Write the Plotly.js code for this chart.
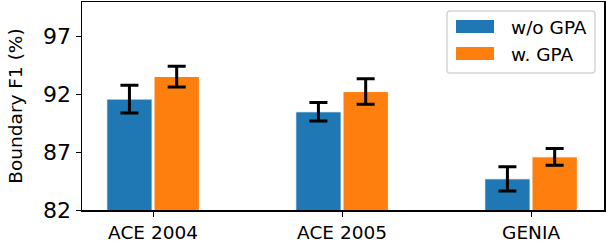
<!DOCTYPE html>
<html><head><meta charset="utf-8">
<script src="https://cdn.plot.ly/plotly-3.0.1.min.js"></script>
<style>html,body{margin:0;padding:0;background:#fff}</style>
</head><body><div id="chart" style="width:606px;height:244px"></div>
<script>
const categories = ["ACE 2004", "ACE 2005", "GENIA"];
const seriesNames = ["w/o GPA", "w. GPA"];
const woGPA = [91.6, 90.5, 84.7];
const woGPAErr = [1.2, 0.8, 1.05];
const wGPA = [93.55, 92.25, 86.6];
const wGPAErr = [0.9, 1.1, 0.72];
const yTicks = [82, 87, 92, 97];
const colors = ['#1f77b4', '#ff7f0e'];

const errStyle = {type: 'data', visible: true, color: '#000', thickness: 3, width: 9};
const traces = [
  {type: 'bar', name: seriesNames[0], x: categories, y: woGPA,
   error_y: Object.assign({array: woGPAErr}, errStyle),
   marker: {color: colors[0], line: {color: '#fff', width: 1}}},
  {type: 'bar', name: seriesNames[1], x: categories, y: wGPA,
   error_y: Object.assign({array: wGPAErr}, errStyle),
   marker: {color: colors[1], line: {color: '#fff', width: 1}}}
];

// manual legend (matplotlib-style) in paper coordinates
const W = 606 - 82 - 2, H = 244 - 2 - 34;
const px = x => (x - 82) / W;
const py = y => (210 - y) / H;
const rx = 3 / W, ry = 3 / H;
const bx0 = px(447), bx1 = px(595), by0 = py(73), by1 = py(11);
const boxPath = `M${bx0+rx},${by0} L${bx1-rx},${by0} Q${bx1},${by0} ${bx1},${by0+ry} ` +
  `L${bx1},${by1-ry} Q${bx1},${by1} ${bx1-rx},${by1} L${bx0+rx},${by1} ` +
  `Q${bx0},${by1} ${bx0},${by1-ry} L${bx0},${by0+ry} Q${bx0},${by0} ${bx0+rx},${by0} Z`;
const shapes = [
  {type: 'path', xref: 'paper', yref: 'paper', path: boxPath,
   fillcolor: 'rgba(255,255,255,0.8)', line: {color: '#d6d6d6', width: 1.5}},
  {type: 'rect', xref: 'paper', yref: 'paper', x0: px(456), x1: px(494), y0: py(33), y1: py(20),
   fillcolor: colors[0], line: {width: 0}},
  {type: 'rect', xref: 'paper', yref: 'paper', x0: px(456), x1: px(494), y0: py(60), y1: py(47),
   fillcolor: colors[1], line: {width: 0}}
];
const annotations = [
  {xref: 'paper', yref: 'paper', x: px(509), y: py(27), xanchor: 'left', yanchor: 'middle',
   text: seriesNames[0], showarrow: false, font: {size: 18.5}},
  {xref: 'paper', yref: 'paper', x: px(509), y: py(54), xanchor: 'left', yanchor: 'middle',
   text: seriesNames[1], showarrow: false, font: {size: 18.5}}
];

const layout = {
  width: 606, height: 244,
  margin: {l: 82, r: 2, t: 2, b: 34},
  paper_bgcolor: '#fff', plot_bgcolor: '#fff',
  font: {family: 'DejaVu Sans', color: '#000'},
  barmode: 'group', bargap: 0.5, bargroupgap: 0.04,
  showlegend: false,
  shapes: shapes, annotations: annotations,
  xaxis: {type: 'category', range: [-0.376, 2.386], showgrid: false,
          showline: true, linecolor: '#000', linewidth: 1.5, mirror: true,
          ticks: 'outside', ticklen: 5, tickcolor: '#000', tickfont: {size: 18.5}},
  yaxis: {range: [82, 100], tickvals: yTicks, showgrid: false, zeroline: false,
          showline: true, linecolor: '#000', linewidth: 1.5, mirror: true,
          ticks: 'outside', ticklen: 5, tickcolor: '#000', tickfont: {size: 22},
          title: {text: 'Boundary F1 (%)', font: {size: 18.5}, standoff: 15}}
};
Plotly.newPlot('chart', traces, layout, {displayModeBar: false, staticPlot: true});
</script></body></html>
